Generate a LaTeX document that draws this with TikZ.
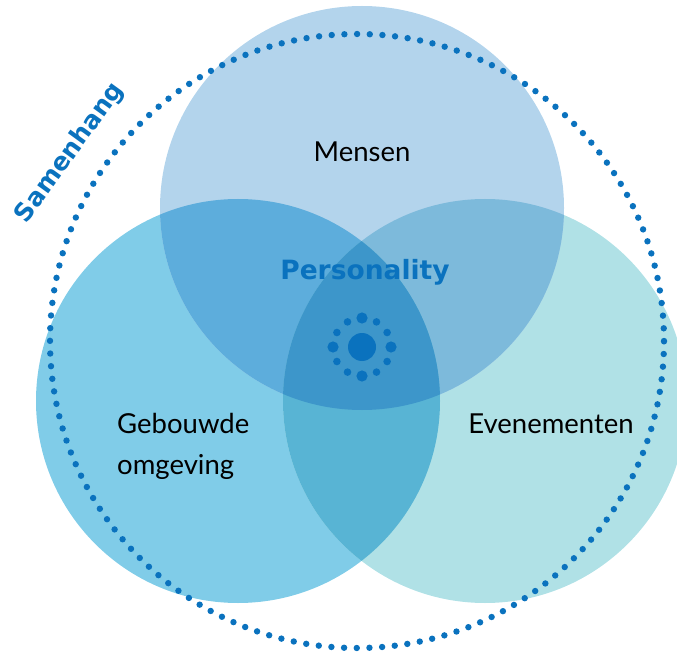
\documentclass[tikz,border=0pt]{standalone}
\usepackage{fontspec}
\setmainfont{Lato}
\newfontfamily\boldf{DejaVu Sans}
\usetikzlibrary{calc}
\definecolor{ctop}{HTML}{B3D4EC}
\definecolor{cleft}{HTML}{80CCE8}
\definecolor{cright}{HTML}{B0E1E6}
\definecolor{ctl}{HTML}{5DADDC}
\definecolor{ctr}{HTML}{7DBADB}
\definecolor{clr}{HTML}{58B4D4}
\definecolor{call}{HTML}{3D96CA}
\definecolor{dblue}{HTML}{0A72BE}
\tikzset{
  lbl/.style={font=\fontsize{27.5}{41}\selectfont, text=black},
  dotc/.style={fill=dblue, draw=none},
}
\begin{document}
\begin{tikzpicture}[x=1pt,y=-1pt]
\useasboundingbox (0,0) rectangle (677,652);
\coordinate (T) at (362,208);
\coordinate (L) at (238,401);
\coordinate (R) at (485,401);
\coordinate (C) at (362,347);
\begin{scope}
\clip (0,0) rectangle (677,652);
\fill[cleft] (L) circle (202);
\fill[cright] (R) circle (202);
\fill[ctop] (T) circle (202);
\begin{scope}\clip (T) circle (202); \fill[ctl] (L) circle (202); \end{scope}
\begin{scope}\clip (T) circle (202); \fill[ctr] (R) circle (202); \end{scope}
\begin{scope}\clip (L) circle (202); \fill[clr] (R) circle (202); \end{scope}
\begin{scope}\clip (T) circle (202); \clip (L) circle (202); \fill[call] (R) circle (202); \end{scope}
\end{scope}
% dotted ring
\node[circle, minimum size=614pt, inner sep=0pt, draw=dblue, line width=6.4pt, line cap=round,
  dash pattern=on 0pt off 12.69pt] (ring) at (357,341) {};
% center symbol
\fill[dotc] (C) circle (14);
\foreach \a in {0,90,180,270} \fill[dotc] ($(C)+(\a:29)$) circle (5.6);
\foreach \a in {30,60,120,150,210,240,300,330} \fill[dotc] ($(C)+(\a:29)$) circle (3.8);
% texts
\node[lbl] (mensen) at (362,152) {Mensen};
\node[lbl, align=left, anchor=west, inner sep=0pt] (gebouwde) at (117,446) {Gebouwde\\omgeving};
\node[lbl] (even) at (551,424) {Evenementen};
\node[font=\boldf\bfseries\fontsize{26.5}{32}\selectfont, text=dblue] (pers) at (365,272) {Personality};
\node[font=\boldf\bfseries\fontsize{25}{30}\selectfont, text=dblue, rotate=54] (samen) at (70,153) {Samenhang};
\end{tikzpicture}
\end{document}
